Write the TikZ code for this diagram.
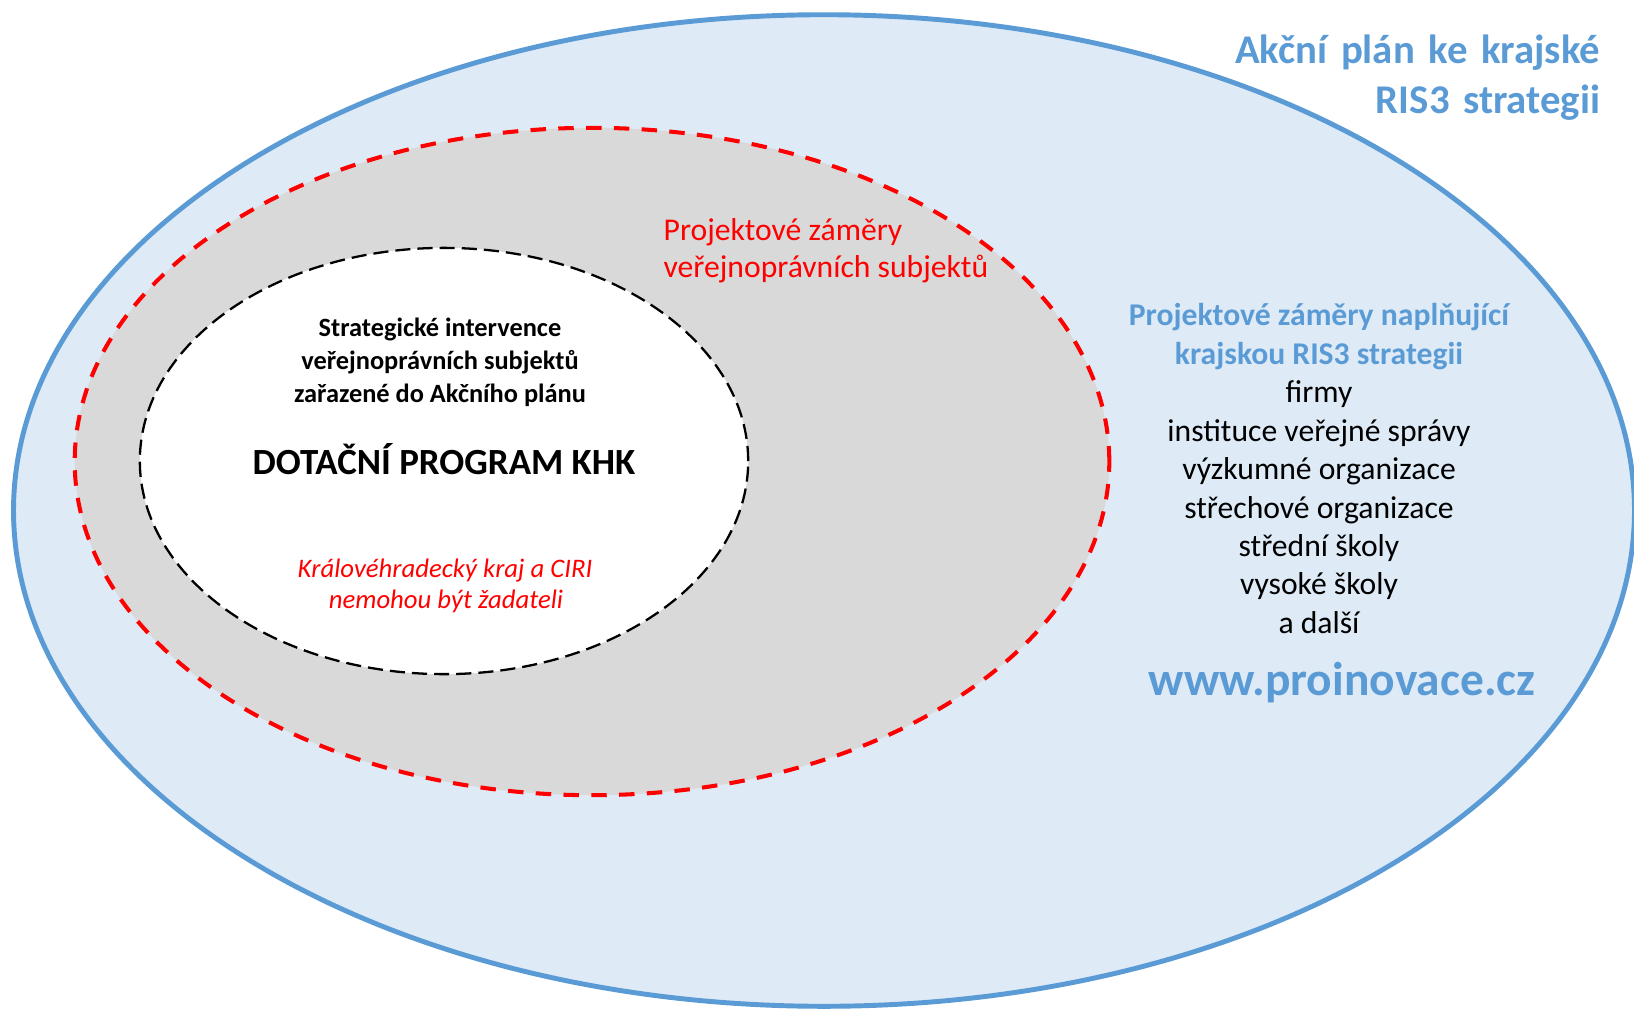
\documentclass[tikz,border=0pt]{standalone}
\usepackage{fontspec}
\setmainfont{Carlito}
\usetikzlibrary{shapes.geometric,positioning}

\definecolor{risblue}{RGB}{91,155,213}
\definecolor{risfill}{RGB}{222,235,247}
\definecolor{zamgray}{RGB}{217,217,217}

\begin{document}
\begin{tikzpicture}[x=0.01cm, y=-0.01cm, node distance=0.384cm,
		ring/.style={ellipse, inner sep=0pt, outer sep=0pt},
		titleline/.style={font=\bfseries\fontsize{11.6}{14}\selectfont, text=risblue, text height=9pt, text depth=3pt, inner sep=0pt, text width=6cm, align=right},
		listline/.style={font=\fontsize{9}{11}\selectfont, text height=6.5pt, text depth=2pt, inner sep=0pt},
		listhead/.style={listline, font=\bfseries\fontsize{9}{11}\selectfont, text=risblue},
		innerline/.style={font=\bfseries\fontsize{7.5}{9}\selectfont, text height=5.5pt, text depth=1.7pt, inner sep=0pt},
		noteline/.style={font=\itshape\fontsize{7.6}{9}\selectfont, text=red, inner sep=0pt}]
			\useasboundingbox (0,0) rectangle (1634,1009);
			\clip (0,0) rectangle (1634,1009);

			% three nested ellipses
			\node[ring, draw=risblue, fill=risfill, line width=1.4pt, minimum width=16.2cm, minimum height=9.91cm] (plan) at (824,510.5) {};
			\node[ring, draw=red, fill=zamgray, line width=1.15pt, dash pattern=on 4.4pt off 3.5pt, minimum width=10.34cm, minimum height=6.67cm] (zamery) at (592,461.5) {};
			\node[ring, draw=black, fill=white, line width=0.65pt, dash pattern=on 4.3pt off 2pt, minimum width=6.08cm, minimum height=4.26cm] (dotace) at (444,461) {};

			\node[titleline] (t1) at (1300,52.5) {Akční plán ke krajské};
			\node[titleline] (t2)[below of = t1, yshift=-0.116cm] {RIS3 strategii};

			\node[anchor=base west, font=\fontsize{9}{11}\selectfont, text=red, inner sep=0pt] (z1) at (663,240) {Projektové záměry};
			\node[anchor=base west, font=\fontsize{9}{11}\selectfont, text=red, inner sep=0pt] (z2) at (663,277) {veřejnoprávních subjektů};

			\node[innerline] (i1) at (440,330.3) {Strategické intervence};
			\node[innerline] (i2)[below of = i1, yshift=0.059cm] {veřejnoprávních subjektů};
			\node[innerline] (i3)[below of = i2, yshift=0.059cm] {zařazené do Akčního plánu};
			\node[anchor=base, font=\bfseries\fontsize{10.5}{12}\selectfont, inner sep=0pt] (khk) at (444,474) {DOTAČNÍ PROGRAM KHK};
			\node[noteline, anchor=base] (n1) at (445,577) {Královéhradecký kraj a CIRI};
			\node[noteline, anchor=base] (n2) at (446,608) {nemohou být žadateli};

			\node[listhead] (h1) at (1319,318) {Projektové záměry naplňující};
			\node[listhead] (h2)[below of = h1] {krajskou RIS3 strategii};
			\node[listline] (1)[below of = h2] {firmy};
			\node[listline] (2)[below of = 1] {instituce veřejné správy};
			\node[listline] (3)[below of = 2] {výzkumné organizace};
			\node[listline] (4)[below of = 3] {střechové organizace};
			\node[listline] (5)[below of = 4] {střední školy};
			\node[listline] (6)[below of = 5] {vysoké školy};
			\node[listline] (7)[below of = 6] {a další};
			\node[anchor=base, font=\bfseries\fontsize{13.5}{16}\selectfont, text=risblue, inner sep=0pt] (www) at (1342,695) {www.proinovace.cz};
		\end{tikzpicture}
\end{document}
